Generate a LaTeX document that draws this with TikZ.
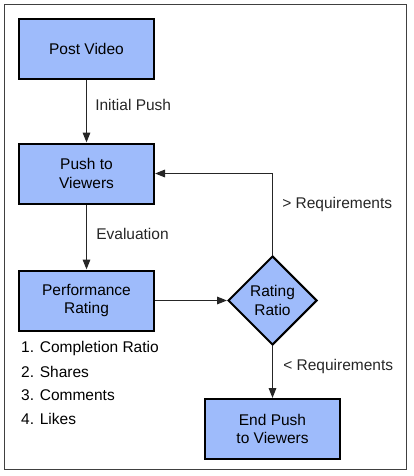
\documentclass[tikz,border=0pt]{standalone}
\usepackage{fontspec}
\setmainfont{Liberation Sans}
\usetikzlibrary{shapes,arrows.meta,positioning,calc}
\definecolor{boxblue}{RGB}{158,187,251}
\colorlet{lcline}{black!85}

\begin{document}
\begin{tikzpicture}[%
    x=1pt, y=-1pt,
    >={Triangle[length=10pt,width=7.5pt]}, % filled arrow heads
    node distance=126pt and 186pt,
    every node/.style={font=\fontsize{15.5}{18.5}\selectfont}]
% -------------------------------------------------
% box styles
\tikzset{
  base/.style={draw=black, line width=2pt, fill=boxblue, align=center, on grid},
  proc/.style={base, rectangle, minimum width=135pt, minimum height=60pt},
  test/.style={base, diamond, minimum width=89pt, minimum height=89pt, inner sep=0pt},
  norm/.style={->, draw, lcline, line width=1.6pt},
  lbl/.style={anchor=west, inner sep=0pt}
}
% frame
\useasboundingbox (0,0) rectangle (413,476);
\draw [black!75, line width=1pt] (4,5) rectangle (406.5,469);
% -------------------------------------------------
% left column
\node [proc] at (86.5,49) (p0) {Post Video};
\node [proc, below=124.5pt of p0] (p1) {Push to\\Viewers};
\node [proc, below=127pt of p1] (p2) {Performance\\Rating};

% right column
\node [test, right=of p2] (t1) {Rating\\Ratio};
\node [proc, below=128.5pt of t1] (p3) {End Push\\to Viewers};

% metrics under the rating box
\foreach \txt [count=\i] in {Completion Ratio, Shares, Comments, Likes}
  \node [lbl] (m\i) at (21, 348+23.5*\i-23.5) {\i. \txt};
% -------------------------------------------------
% connectors
\draw [norm] (p0) -- node [lbl, right=8pt, pos=0.4] {Initial Push} (p1);
\draw [norm] (p1) -- node [lbl, right=9pt, pos=0.45] {Evaluation} (p2);
\draw [norm] (p2) -- (t1);
\draw [norm] (t1.north) |- node [lbl, pos=0.31, right=9pt] {> Requirements} (p1.east);
\draw [norm] (t1.south) -- node [lbl, pos=0.4, right=10pt] {< Requirements} (p3);
% -------------------------------------------------
\end{tikzpicture}
\end{document}
